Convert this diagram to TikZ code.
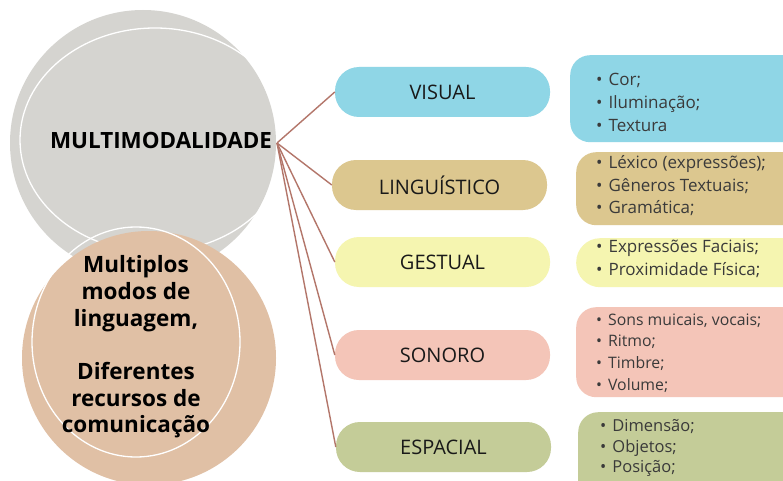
\documentclass[tikz,border=0pt]{standalone}
\usepackage{fontspec}
\setmainfont{Open Sans}
\definecolor{graycirc}{HTML}{D5D4D0}
\definecolor{peach}{HTML}{E0C0A5}
\definecolor{cvis}{HTML}{8FD6E6}
\definecolor{cling}{HTML}{DCC78F}
\definecolor{cgest}{HTML}{F5F5B0}
\definecolor{cson}{HTML}{F4C5B8}
\definecolor{cesp}{HTML}{C4CC98}
\definecolor{linkcol}{HTML}{B3766A}
\definecolor{txtgray}{HTML}{3A3A3A}
\newcommand{\itm}{\textbullet\hspace{6pt}}
\begin{document}
\begin{tikzpicture}[x=1pt,y=-1pt,
  pill/.style={rounded corners=24pt, minimum width=215pt, minimum height=50pt, inner sep=0pt,
    font=\fontsize{20}{24}\selectfont, text=black!90},
  infobox/.style={rounded corners=20pt, minimum width=240pt, anchor=north west, inner sep=0pt},
  infotext/.style={anchor=west, align=left, inner sep=0pt, text=txtgray},
  link/.style={draw=linkcol, line width=1.4pt},
  ring/.style={draw=white, line width=1.3pt}]
\clip (0,0) rectangle (783,481);
\fill[white] (0,0) rectangle (783,481);
% circles
\fill[graycirc] (143,143) circle (133);
\draw[ring] (155,140) ellipse (135 and 112);
\fill[peach] (149,358) circle (127);
\draw[ring] (136,342) ellipse (104 and 115);
\node[font=\bfseries\fontsize{22.4}{26}\selectfont] (multi) at (161,140) {MULTIMODALIDADE};
\node[font=\bfseries\fontsize{22.5}{26.7}\selectfont, align=center, inner sep=0pt] (desc) at (136,347)
  {Multiplos\\modos de\\linguagem,\\[26.7pt]Diferentes\\recursos de\\comunicação};
% pills
\node[pill, fill=cvis] (vis) at (442.5,92) {VISUAL};
\node[pill, fill=cling] (ling) at (439.5,185) {LINGUÍSTICO};
\node[pill, fill=cgest] (gest) at (442.5,262) {GESTUAL};
\node[pill, fill=cson] (son) at (442.5,355) {SONORO};
\node[pill, fill=cesp] (esp) at (443.5,447) {ESPACIAL};
% connectors
\coordinate (hub) at (277,143);
\foreach \t in {vis,ling,gest,son,esp} \draw[link] (hub) -- (\t.west);
% info boxes
\node[infobox, fill=cvis, minimum height=87pt] (bvis) at (570,55) {};
\node[infobox, fill=cling, minimum height=73pt] (bling) at (576,152) {};
\node[infobox, fill=cgest, minimum height=49pt, rounded corners=24pt] (bgest) at (576,238) {};
\node[infobox, fill=cson, minimum height=90pt] (bson) at (576,307) {};
\node[infobox, fill=cesp, minimum height=90pt] (besp) at (578,412) {};
\node[infotext, font=\fontsize{17}{23}\selectfont] (tvis) at (596,102)
  {\itm Cor;\\\itm Iluminação;\\\itm Textura};
\node[infotext, font=\fontsize{17}{22.5}\selectfont] (tling) at (596,186)
  {\itm Léxico (expressões);\\\itm Gêneros Textuais;\\\itm Gramática;};
\node[infotext, font=\fontsize{17}{23}\selectfont] (tgest) at (596,259)
  {\itm Expressões Faciais;\\\itm Proximidade Física;};
\node[infotext, font=\fontsize{15.8}{21.7}\selectfont] (tson) at (596,353)
  {\itm Sons muicais, vocais;\\\itm Ritmo;\\\itm Timbre;\\\itm Volume;};
\node[infotext, font=\fontsize{16.5}{20.5}\selectfont] (tesp) at (600,448)
  {\itm Dimensão;\\\itm Objetos;\\\itm Posição;};
\end{tikzpicture}
\end{document}
